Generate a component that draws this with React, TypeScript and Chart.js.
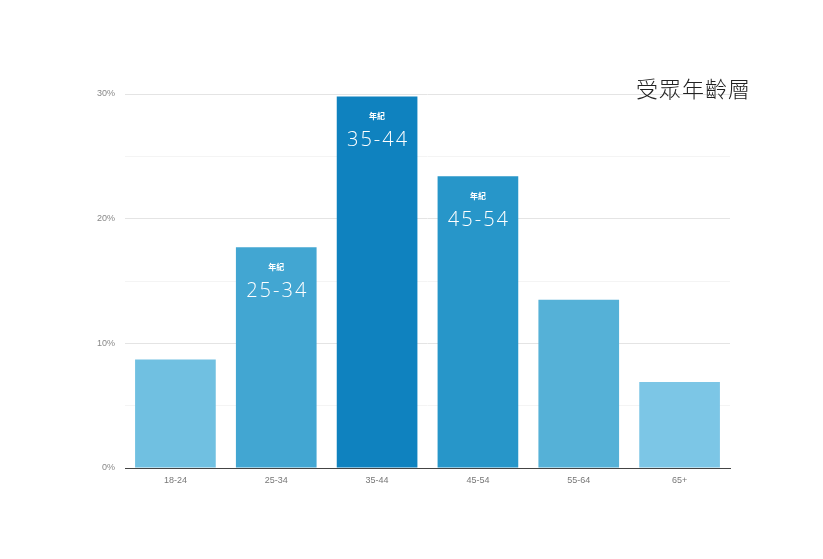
import React, { useEffect, useRef } from "react";
import { Chart, registerables } from "chart.js";

Chart.register(...registerables);

const categories = ["18-24", "25-34", "35-44", "45-54", "55-64", "65+"];
const values = [8.7, 17.7, 29.8, 23.4, 13.5, 6.9];
const barColors = ["#70c0e1", "#42a6d2", "#0f82bf", "#2796c9", "#55b1d7", "#7cc6e6"];
const highlighted = ["25-34", "35-44", "45-54"];
const labelCaption = "年紀";
const chartTitle = "受眾年齡層";
const yTickValues = [0, 10, 20, 30];

const barLabelPlugin = {
  id: "barLabels",
  afterDatasetsDraw(chart: any) {
    const ctx = chart.ctx;
    const meta = chart.getDatasetMeta(0);
    ctx.save();
    ctx.fillStyle = "#ffffff";
    ctx.textAlign = "center";
    ctx.textBaseline = "middle";
    meta.data.forEach((bar: any, i: number) => {
      const cat = categories[i];
      if (!highlighted.includes(cat)) return;
      ctx.font = "bold 8px 'Noto Sans CJK TC'";
      (ctx as any).letterSpacing = "0px";
      ctx.fillText(labelCaption, bar.x, bar.y + 19.5);
      ctx.font = "300 20px 'Open Sans'";
      (ctx as any).letterSpacing = "2px";
      ctx.fillText(cat, bar.x + 1, bar.y + 44);
    });
    (ctx as any).letterSpacing = "0px";
    ctx.fillStyle = "#222222";
    ctx.textAlign = "left";
    ctx.font = "300 22px 'Noto Sans CJK TC'";
    (ctx as any).letterSpacing = "1px";
    ctx.fillText(chartTitle, 636, 89);
    ctx.restore();
  },
};

export default function App() {
  const ref = useRef<HTMLCanvasElement>(null);
  useEffect(() => {
    if (!ref.current) return;
    const chart = new Chart(ref.current, {
      type: "bar",
      data: {
        labels: categories,
        datasets: [
          {
            data: values,
            backgroundColor: barColors,
            borderWidth: 0,
            barPercentage: 0.8,
            categoryPercentage: 1,
          },
        ],
      },
      plugins: [barLabelPlugin],
      options: {
        animation: false,
        responsive: false,
        maintainAspectRatio: false,
        layout: { padding: { left: 0, right: 93, top: 94, bottom: 0 } },
        plugins: {
          legend: { display: false },
          tooltip: { enabled: false },
        },
        scales: {
          x: {
            grid: { display: false, drawTicks: false },
            border: { display: true, color: "#444444", width: 1 },
            ticks: {
              color: "#777777",
              font: { family: "Arial, 'Liberation Sans'", size: 9 },
              padding: 7,
            },
            afterFit: (s: any) => {
              s.height = 91;
            },
          },
          y: {
            min: 0,
            max: 30,
            border: { display: false },
            grid: {
              drawTicks: false,
              color: (c: any) =>
                c.tick && yTickValues.includes(c.tick.value) ? "#e4e4e4" : "#f4f4f4",
              lineWidth: 1,
            },
            ticks: {
              stepSize: 5,
              padding: 10,
              color: "#888888",
              font: { family: "Arial, 'Liberation Sans'", size: 9 },
              callback: (v: any) => (yTickValues.includes(Number(v)) ? v + "%" : ""),
            },
            afterFit: (s: any) => {
              s.width = 125;
            },
          },
        },
      },
    });
    return () => chart.destroy();
  }, []);
  return (
    <div style={{ position: "fixed", left: 0, top: 0, width: 823, height: 559, background: "#fff" }}>
      <canvas ref={ref} width={823} height={559} style={{ display: "block" }} />
    </div>
  );
}
